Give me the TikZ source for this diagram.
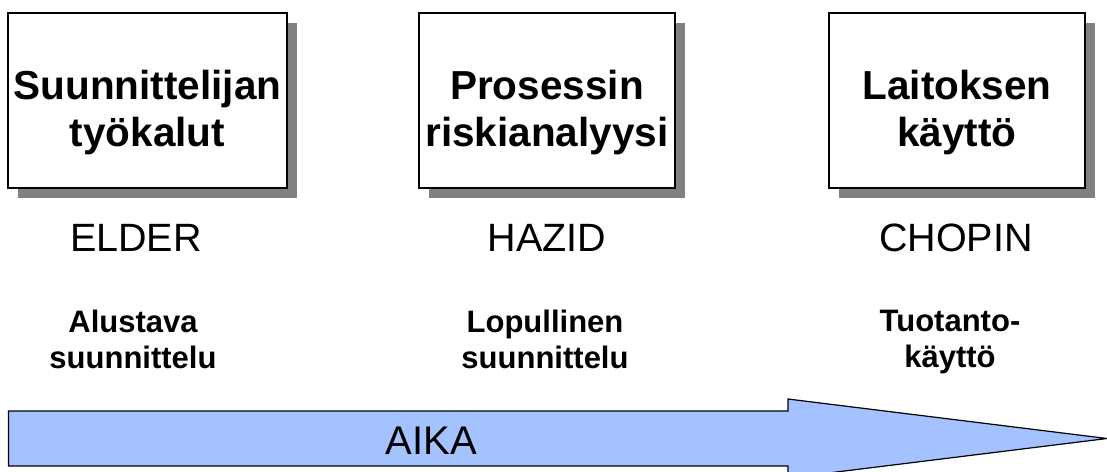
\documentclass[tikz,border=0pt]{standalone}
\usepackage{fontspec}
\setmainfont{Liberation Sans}
\usepackage{tikz}
\usetikzlibrary{positioning, shadows}
\definecolor{timeblue}{RGB}{164, 194, 255}
\definecolor{panelshadow}{RGB}{128, 128, 128}

\tikzset{
  panel/.style={draw=black, line width=1.2pt, fill=white, inner sep=0pt,
    minimum width=256pt, minimum height=175pt,
    drop shadow={shadow xshift=10pt, shadow yshift=-10pt, opacity=1, fill=panelshadow}},
  paneltitle/.style={anchor=north, align=center, inner sep=0pt,
    font=\fontsize{40.5}{47}\selectfont\bfseries},
  toolname/.style={anchor=base, inner sep=0pt, font=\fontsize{39.5}{44}\selectfont},
  phase/.style={anchor=north, align=center, inner sep=0pt,
    font=\fontsize{31}{36}\selectfont\bfseries},
}

\begin{document}
\begin{tikzpicture}[x=1pt, y=-1pt]
  \clip (0,0) rectangle (1107,471);

  % the three stages
  \node[panel, minimum width=279pt] (design) at (147.5,100.5) {};
  \node[panel] (risk) at (547,100.5) {};
  \node[panel] (operation) at (957,100.5) {};

  \node[paneltitle] (designtitle) at ([yshift=-58pt]design.north) {Suunnittelijan\\työkalut};
  \node[paneltitle] (risktitle) at ([yshift=-58pt]risk.north) {Prosessin\\riskianalyysi};
  \node[paneltitle] (operationtitle) at ([yshift=-58pt]operation.north) {Laitoksen\\käyttö};

  % tool used in each stage
  \node[toolname] (elder) at (136,251) {ELDER};
  \node[toolname] (hazid) at (547,251) {HAZID};
  \node[toolname] (chopin) at (956,251) {CHOPIN};

  \node[phase] (prelim) at (133,309.5) {Alustava\\suunnittelu};
  \node[phase] (final) at (545,309.5) {Lopullinen\\suunnittelu};
  \node[phase] (production) at (950,309.5) {Tuotanto-\\käyttö};

  % time axis
  \draw[line width=1.2pt, fill=timeblue]
    (8.5,411) -- (788,411) -- (788,399) -- (1107,438.5)
    -- (788,478) -- (788,466) -- (8.5,466) -- cycle;
  \node[anchor=base, inner sep=0pt, font=\fontsize{40}{47}\selectfont] (time) at (431.5,454) {AIKA};
\end{tikzpicture}
\end{document}
